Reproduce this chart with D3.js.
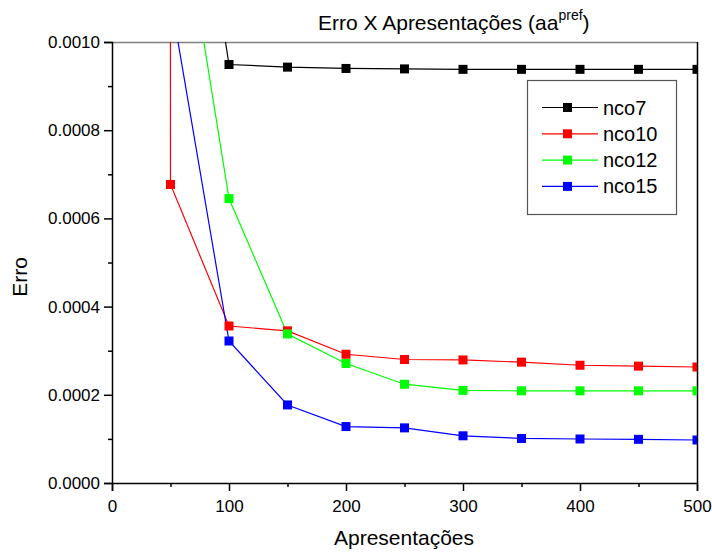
<!DOCTYPE html>
<html><head><meta charset="utf-8">
<script src="https://cdn.jsdelivr.net/npm/d3@7"></script>
<style>body{margin:0;background:#fff}svg{display:block;font-family:Arial,"Liberation Sans",sans-serif}</style>
</head><body><svg id="c" width="712" height="552"></svg>
<script>
const xValues = [0, 50, 100, 150, 200, 250, 300, 350, 400, 450, 500];
const nco7  = [0.25, 0.0018, 0.000949, 0.000943, 0.000940, 0.000939, 0.000938, 0.000938, 0.000938, 0.000938, 0.000938];
const nco10 = [0.25, 0.000677, 0.000356, 0.000345, 0.000292, 0.000280, 0.000279, 0.000274, 0.000267, 0.000265, 0.000263];
const nco12 = [0.25, 0.00147, 0.000645, 0.000338, 0.000271, 0.000224, 0.000210, 0.000209, 0.000209, 0.000209, 0.000209];
const nco15 = [0.25, 0.0011, 0.000322, 0.000177, 0.000128, 0.000125, 0.000107, 0.000101, 0.0000998, 0.0000990, 0.0000975];
const seriesNames = ["nco7", "nco10", "nco12", "nco15"];
const seriesColors = ["#000000", "#ff0000", "#00ff00", "#0000ff"];
const xTicks = [0, 100, 200, 300, 400, 500];
const yTicks = [0, 0.0002, 0.0004, 0.0006, 0.0008, 0.0010];

const series = [nco7, nco10, nco12, nco15].map((v, i) => ({
  name: seriesNames[i], color: seriesColors[i],
  pts: xValues.map((x, j) => ({x, y: v[j]}))
}));

const svg = d3.select("#c");
const L = 112, R = 697, T = 42, B = 483;
const x = d3.scaleLinear().domain([0, 500]).range([L, R]);
const y = d3.scaleLinear().domain([0, 0.001]).range([B, T]);

svg.append("defs").append("clipPath").attr("id", "clip")
  .append("rect").attr("x", L).attr("y", T).attr("width", R - L).attr("height", B - T);

// frame
svg.append("line").attr("x1", L).attr("x2", R).attr("y1", T + 0.5).attr("y2", T + 0.5).attr("stroke", "#808080").attr("stroke-width", 1.5);
svg.append("line").attr("x1", R + 0.5).attr("x2", R + 0.5).attr("y1", T).attr("y2", B).attr("stroke", "#000").attr("stroke-width", 1.5);

// axes
const xAxis = d3.axisBottom(x).tickValues(xTicks).tickSize(8).tickPadding(9).tickFormat(d3.format("d"));
const xMinor = d3.axisBottom(x).tickValues(d3.range(50, 500, 100)).tickSize(4).tickFormat("");
const yAxis = d3.axisLeft(y).tickValues(yTicks).tickSize(8).tickPadding(4).tickFormat(d3.format(".4f"));
const yMinor = d3.axisLeft(y).tickValues(d3.range(1, 10, 2).map(d => d * 0.0001)).tickSize(4).tickFormat("");

function style(g) {
  g.select(".domain").attr("stroke", "#000").attr("stroke-width", 1.5);
  g.selectAll(".tick line").attr("stroke", "#000").attr("stroke-width", 1.5);
  g.selectAll("text").attr("font-size", 17).attr("fill", "#000").attr("font-family", "Arial, 'Liberation Sans', sans-serif");
}
svg.append("g").attr("transform", `translate(0,${B})`).call(xMinor).call(style).select(".domain").remove();
svg.append("g").attr("transform", `translate(${L},0)`).call(yMinor).call(style).select(".domain").remove();
svg.append("g").attr("transform", `translate(0,${B})`).call(xAxis).call(style);
svg.append("g").attr("transform", `translate(${L},0)`).call(yAxis).call(style);

// lines and markers
const line = d3.line().x(d => x(d.x)).y(d => y(d.y));
const plot = svg.append("g").attr("clip-path", "url(#clip)");
series.forEach(s => {
  plot.append("path").datum(s.pts).attr("d", line).attr("fill", "none").attr("stroke", s.color).attr("stroke-width", 1.2);
});
const ms = 9;
series.forEach(s => {
  plot.selectAll(null).data(s.pts).enter().append("rect")
    .attr("x", d => x(d.x) - ms / 2).attr("y", d => y(d.y) - ms / 2)
    .attr("width", ms).attr("height", ms).attr("fill", s.color);
});

// legend
const lg = svg.append("g");
lg.append("rect").attr("x", 527.5).attr("y", 80.5).attr("width", 149).attr("height", 134)
  .attr("fill", "#fff").attr("stroke", "#555").attr("stroke-width", 1.2);
series.forEach((s, i) => {
  const yy = 107.5 + i * 26.3;
  lg.append("line").attr("x1", 542).attr("x2", 598).attr("y1", yy).attr("y2", yy).attr("stroke", s.color).attr("stroke-width", 1.2);
  lg.append("rect").attr("x", 567.5 - ms / 2).attr("y", yy - ms / 2).attr("width", ms).attr("height", ms).attr("fill", s.color);
  lg.append("text").attr("x", 603).attr("y", yy + 7).attr("font-size", 20).text(s.name);
});

// titles
const t = svg.append("text").attr("x", 318).attr("y", 30).attr("font-size", 21);
t.append("tspan").text("Erro X Apresentações (aa");
t.append("tspan").attr("dy", -10).attr("font-size", 14).text("pref");
t.append("tspan").attr("dy", 10).text(")");
svg.append("text").attr("x", 404).attr("y", 545).attr("text-anchor", "middle").attr("font-size", 21).text("Apresentações");
svg.append("text").attr("transform", "translate(27,277) rotate(-90)").attr("text-anchor", "middle").attr("font-size", 21).text("Erro");
</script></body></html>
